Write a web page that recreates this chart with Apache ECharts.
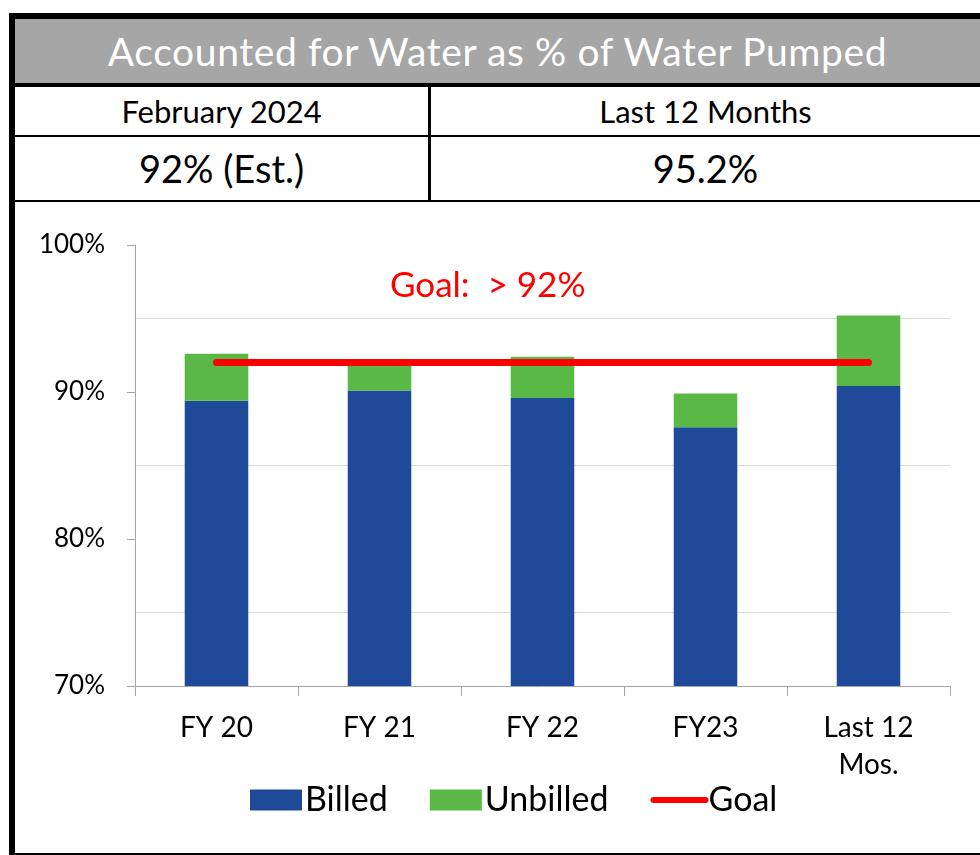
<!DOCTYPE html>
<html>
<head>
<meta charset="utf-8">
<script src="https://cdn.jsdelivr.net/npm/echarts@6/dist/echarts.min.js"></script>
<style>
  html, body { margin: 0; padding: 0; background: #fff; }
  body { width: 980px; height: 855px; position: relative; overflow: hidden; font-family: Lato, "Open Sans", sans-serif; }
  .frame { position: absolute; left: 9px; top: 13px; width: 980px; height: 842px; border-left: 6px solid #000; border-top: 6px solid #000; box-sizing: border-box; }
  .title { position: absolute; left: 15px; top: 19px; width: 965px; height: 64px; background: #a6a6a6; color: #fff; font-size: 39px; letter-spacing: 0.6px; line-height: 64px; text-align: center; border-bottom: 4px solid #000; }
  .cell { position: absolute; color: #000; text-align: center; }
  .hline { position: absolute; left: 15px; width: 965px; height: 2px; background: #000; }
  .vline { position: absolute; left: 428px; top: 87px; width: 3px; height: 115px; background: #000; }
  .bottom { position: absolute; left: 9px; top: 853px; width: 971px; height: 2px; background: #000; }
  #chart { position: absolute; left: 15px; top: 202px; width: 965px; height: 651px; }
</style>
</head>
<body>
<div class="frame"></div>
<div class="title">Accounted for Water as % of Water Pumped</div>
<div class="cell" style="left:15px;top:87px;width:413px;height:48px;line-height:48px;font-size:31px;">February 2024</div>
<div class="cell" style="left:431px;top:87px;width:549px;height:48px;line-height:48px;font-size:31px;">Last 12 Months</div>
<div class="hline" style="top:135px;"></div>
<div class="cell" style="left:15px;top:137px;width:413px;height:63px;line-height:63px;font-size:38px;">92% (Est.)</div>
<div class="cell" style="left:431px;top:137px;width:549px;height:63px;line-height:63px;font-size:38px;">95.2%</div>
<div class="hline" style="top:200px;"></div>
<div class="vline"></div>
<div class="bottom"></div>
<div id="chart"></div>
<script>
// chart values
const categories = ["FY 20", "FY 21", "FY 22", "FY23", "Last 12\nMos."];
const billed = [89.4, 90.1, 89.6, 87.6, 90.4];
const unbilled = [3.2, 1.8, 2.8, 2.3, 4.8];
const goal = [92, 92, 92, 92, 92];
const yTicks = [70, 80, 90, 100];

const font = "Lato, 'Open Sans', sans-serif";
const chart = echarts.init(document.getElementById("chart"));

chart.setOption({
  animation: false,
  textStyle: { fontFamily: font },
  grid: { left: 120, right: 30, top: 43, bottom: 167 },
  legend: {
    top: 576,
    left: 230,
    itemWidth: 52,
    itemHeight: 21,
    itemGap: 42,
    textStyle: { fontSize: 34, color: "#000", fontFamily: font, padding: [0, 0, 0, -2] },
    data: [
      { name: "Billed", icon: "rect" },
      { name: "Unbilled", icon: "rect" },
      { name: "Goal", itemStyle: { opacity: 0 }, lineStyle: { width: 6, cap: "round" } },
    ],
  },
  graphic: [
    {
      type: "text",
      left: 375,
      top: 66,
      style: { text: "Goal:  > 92%", fill: "#ff0000", fontSize: 35, fontFamily: font },
    },
  ],
  xAxis: {
    type: "category",
    data: categories,
    axisLine: { lineStyle: { color: "#a6a6a6", width: 1 } },
    axisTick: { show: true, length: 10, lineStyle: { color: "#a6a6a6" } },
    axisLabel: { color: "#000", fontSize: 28, margin: 23, lineHeight: 37, fontFamily: font },
  },
  yAxis: {
    type: "value",
    min: yTicks[0],
    max: yTicks[yTicks.length - 1],
    interval: 10,
    axisLine: { show: true, lineStyle: { color: "#a6a6a6", width: 1 } },
    axisTick: { show: true, length: 8, lineStyle: { color: "#a6a6a6" } },
    axisLabel: { color: "#000", fontSize: 26, margin: 30, fontFamily: font, formatter: "{value}%" },
    splitLine: { show: false },
    minorTick: { show: false, splitNumber: 2 },
    minorSplitLine: { show: true, lineStyle: { color: "#d9d9d9", width: 1 } },
  },
  series: [
    {
      name: "Billed",
      type: "bar",
      stack: "water",
      barWidth: "39%",
      itemStyle: { color: "#1f4a99" },
      data: billed,
    },
    {
      name: "Unbilled",
      type: "bar",
      stack: "water",
      barWidth: "39%",
      itemStyle: { color: "#5ab946" },
      data: unbilled,
    },
    {
      name: "Goal",
      type: "line",
      symbol: "none",
      lineStyle: { color: "#ff0000", width: 7, cap: "round" },
      itemStyle: { color: "#ff0000" },
      z: 5,
      data: goal,
    },
  ],
});
</script>
</body>
</html>
